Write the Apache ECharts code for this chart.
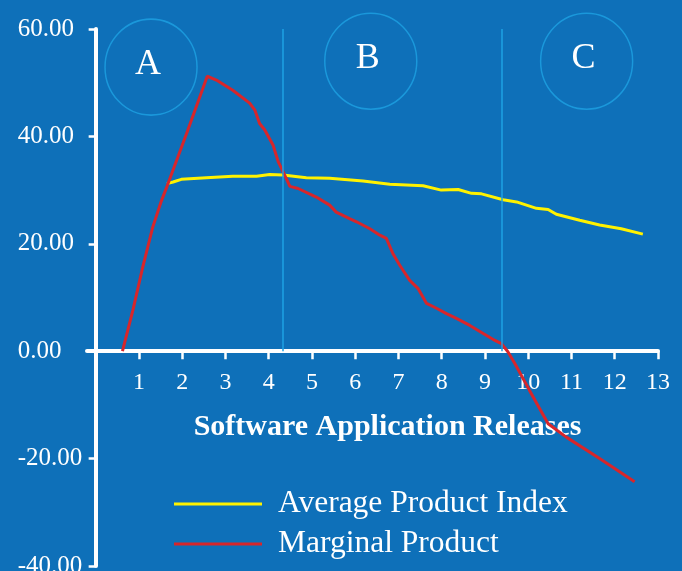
<!DOCTYPE html>
<html>
<head>
<meta charset="utf-8">
<script src="https://cdn.jsdelivr.net/npm/echarts@6/dist/echarts.min.js"></script>
<style>
html,body{margin:0;padding:0;background:#0e70b9;}
#chart{width:682px;height:571px;}
</style>
</head>
<body>
<div id="chart"></div>
<script>
// ---- data ----
var xTicks = [1,2,3,4,5,6,7,8,9,10,11,12,13];
var yTicks = [-40,-20,0,20,40,60];
var seriesNames = ['Average Product Index', 'Marginal Product'];

var apX = [1.65,1.79,1.98,2.56,3.17,3.72,4.02,4.33,4.87,5.41,6.18,6.80,7.57,7.99,8.38,8.69,8.92,9.42,9.73,10.19,10.46,10.65,11.19,11.65,12.15,12.65];
var apY = [31.2,31.5,32.0,32.3,32.6,32.6,32.9,32.8,32.3,32.2,31.7,31.1,30.8,30.0,30.1,29.4,29.3,28.2,27.8,26.6,26.4,25.5,24.4,23.5,22.8,21.8];

var mpX = [0.62,0.86,1.09,1.32,1.52,1.65,2.10,2.58,2.79,3.17,3.56,3.68,3.79,3.91,4.10,4.22,4.37,4.49,4.68,5.10,5.41,5.56,5.87,6.03,6.34,6.57,6.72,6.87,7.03,7.26,7.45,7.65,7.88,8.11,8.34,8.65,8.96,9.23,9.38,9.53,9.69,10.03,10.46,10.88,11.65,12.46];
var mpY = [0,7.6,15.7,23.1,28.0,30.7,40.5,51.2,50.5,48.6,46.2,44.9,42.4,41.2,38.4,35.3,32.8,30.7,30.3,28.7,27.2,25.9,24.7,24.1,22.8,21.6,21.0,18.2,16.0,13.2,11.7,8.9,8.0,7.0,6.1,4.8,3.3,2.0,1.4,-0.1,-2.3,-7.3,-13.5,-16.0,-20.0,-24.3];

var zoneLabels = ['A','B','C'];
var zoneX = [1.28, 6.36, 11.35];
var zoneY = [52.9, 54.0, 54.0];
var zoneBounds = [4.33, 9.39];
var zoneTop = 60;

// ---- chart ----
var serif = '"Liberation Serif", "DejaVu Serif", serif';
function pairs(xs, ys){ return xs.map(function(x,i){ return [x, ys[i]]; }); }

var GRID = {left: 87, right: 24, top: 29, bottom: 5};
var H = 571 - GRID.top - GRID.bottom;
var W = 682 - GRID.left - GRID.right;
var xMin = -0.2, xMax = 13, yMin = -40, yMax = 60;
// move axes onto the zero lines (layout only)
var xAxisOffset = -(H * (0 - yMin) / (yMax - yMin));
var yAxisOffset = -(W * (0 - xMin) / (xMax - xMin));

var chart = echarts.init(document.getElementById('chart'), null, {renderer:'canvas'});
var option = {
  backgroundColor: '#0e70b9',
  animation: false,
  grid: {left: GRID.left, right: GRID.right, top: GRID.top, bottom: GRID.bottom, containLabel: false, outerBoundsMode: 'none'},
  legend: {
    orient: 'vertical', left: 174, top: 487, padding: 0,
    itemWidth: 88, itemHeight: 3, itemGap: 6, icon: 'rect',
    data: seriesNames,
    textStyle: {color: '#ffffff', fontFamily: serif, fontSize: 31.5, lineHeight: 34, padding: [0,0,0,11]}
  },
  xAxis: {
    type: 'value', min: xMin, max: xMax, offset: xAxisOffset,
    name: 'Software Application Releases', nameLocation: 'middle', nameGap: 61,
    nameTextStyle: {color:'#ffffff', fontFamily: serif, fontSize: 30, fontWeight: 'bold', padding: [0,0,0,30]},
    axisLine: {show: true, onZero: false, lineStyle: {color:'#ffffff', width: 4}},
    axisTick: {show: true, inside: false, length: 8, customValues: xTicks, lineStyle: {color:'#ffffff', width: 2.5}},
    axisLabel: {show: true, margin: 20, customValues: xTicks, color:'#ffffff', fontFamily: serif, fontSize: 24},
    splitLine: {show: false}
  },
  yAxis: {
    type: 'value', min: yMin, max: yMax, interval: 20, offset: yAxisOffset,
    axisLine: {show: true, onZero: false, lineStyle: {color:'#ffffff', width: 4}},
    axisTick: {show: true, inside: false, length: 7, lineStyle: {color:'#ffffff', width: 2.5}},
    axisLabel: {show: true, margin: 78, align: 'left', color:'#ffffff', fontFamily: serif, fontSize: 25,
      formatter: function(v){ return v.toFixed(2); }},
    splitLine: {show: false}
  },
  series: [
    {
      name: seriesNames[0], type: 'line', data: pairs(apX, apY),
      showSymbol: false, smooth: false, color: '#fff200',
      lineStyle: {color: '#fff200', width: 3}, z: 3
    },
    {
      name: seriesNames[1], type: 'line', data: pairs(mpX, mpY),
      showSymbol: false, smooth: false, color: '#d7262b',
      lineStyle: {color: '#d7262b', width: 3}, z: 4
    },
    {
      name: 'zones', type: 'scatter', data: pairs(zoneX, zoneY),
      symbol: 'circle', symbolSize: [92, 96], silent: true, z: 1,
      emphasis: {disabled: true},
      itemStyle: {color: 'rgba(0,0,0,0)', borderColor: '#1ea2e4', borderWidth: 1.5},
      label: {show: true, position: 'inside', offset: [-3, -3], color: '#ffffff', opacity: 1,
        textBorderWidth: 0, textBorderColor: 'transparent',
        fontFamily: serif, fontSize: 36,
        formatter: function(p){ return zoneLabels[p.dataIndex]; }},
      markLine: {
        silent: true, symbol: ['none','none'], label: {show: false},
        lineStyle: {color: '#1ea2e4', width: 1.5, type: 'solid'},
        data: zoneBounds.map(function(x){ return [{coord:[x,0]},{coord:[x,zoneTop]}]; })
      }
    }
  ]
};
chart.setOption(option);
</script>
</body>
</html>
